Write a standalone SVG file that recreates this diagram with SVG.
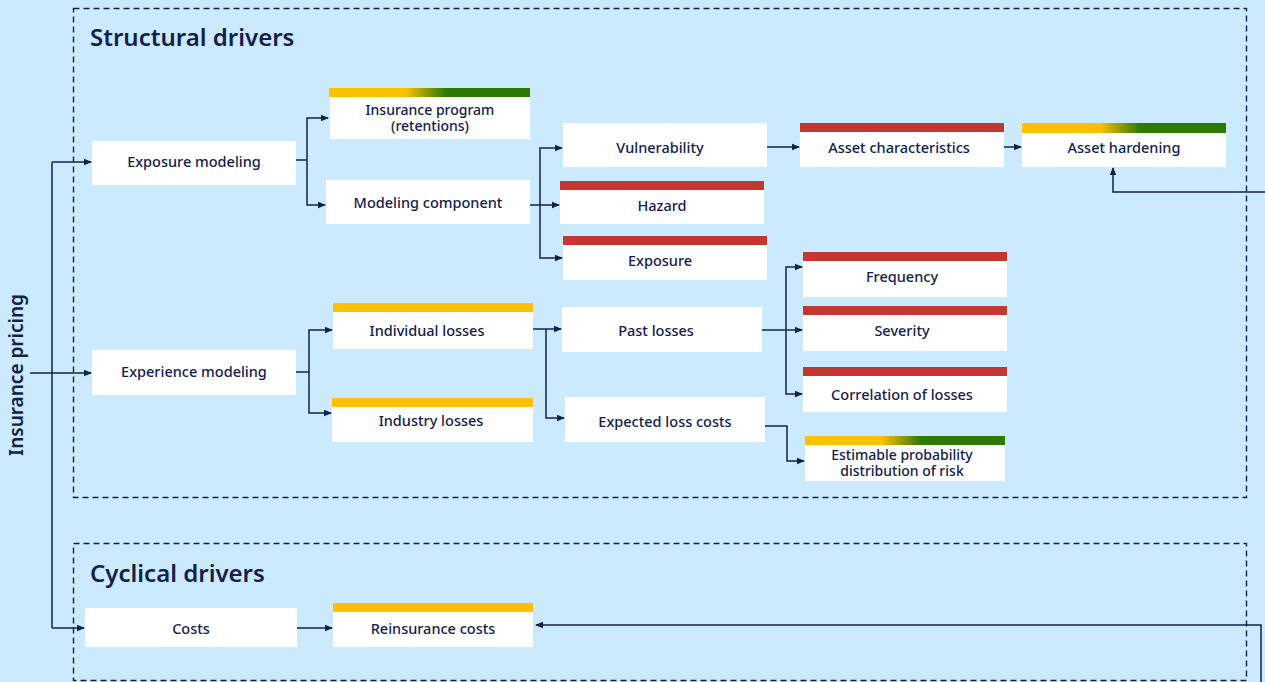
<svg xmlns="http://www.w3.org/2000/svg" width="1265" height="682" viewBox="0 0 1265 682">
  <defs>
    <linearGradient id="ygGrad" x1="0" y1="0" x2="1" y2="0">
      <stop offset="0" stop-color="#ffc000"/>
      <stop offset="0.38" stop-color="#ffc000"/>
      <stop offset="0.58" stop-color="#2e7a00"/>
      <stop offset="1" stop-color="#2e7a00"/>
    </linearGradient>
    <marker id="arrow" viewBox="0 0 8 8" refX="7" refY="4" markerWidth="8" markerHeight="8" markerUnits="userSpaceOnUse" orient="auto">
      <path d="M0,0.8 L8,4 L0,7.2 Z" fill="#13204a"/>
    </marker>
  </defs>
  <style>
    .box { fill: #ffffff; }
    .red { fill: #c43630; }
    .yel { fill: #ffc000; }
    .grad { fill: url(#ygGrad); }
    .lbl { font-family: "Noto Sans", "Open Sans", sans-serif; font-size: 14.5px; font-weight: 500; fill: #13204a; text-anchor: middle; dominant-baseline: central; }
    .sm { font-size: 14px; }
    .title { font-family: "Noto Sans", "Open Sans", sans-serif; font-size: 24px; font-weight: 600; fill: #13204a; }
    .frame { fill: none; stroke: #13204a; stroke-width: 1.4; stroke-dasharray: 6 4; }
    .conn path { fill: none; stroke: #13204a; stroke-width: 1.5; }
    .arr { marker-end: url(#arrow); }
  </style>

  <rect x="0" y="0" width="1265" height="682" fill="#cceafd"/>

  <!-- group frames -->
  <g id="structural-drivers">
    <rect class="frame" x="73.5" y="8.5" width="1173" height="489"/>
    <text class="title" x="90" y="46">Structural drivers</text>
  </g>
  <g id="cyclical-drivers">
    <rect class="frame" x="73.5" y="543.5" width="1173" height="137"/>
    <text class="title" x="90" y="582">Cyclical drivers</text>
  </g>

  <g id="insurance-pricing">
    <text transform="translate(23,375) rotate(-90)" font-family="'Noto Sans', 'Open Sans', sans-serif" font-size="19" font-weight="600" fill="#13204a" text-anchor="middle">Insurance pricing</text>
  </g>

  <!-- connectors -->
  <g id="connectors" class="conn">
    <path d="M52,628 V162"/>
    <path class="arr" d="M52,162 H91"/>
    <path class="arr" d="M30,373 H91"/>
    <path class="arr" d="M52,628 H84"/>

    <path d="M296,160 H307"/>
    <path class="arr" d="M307,160 V118 H328"/>
    <path class="arr" d="M307,160 V205 H325"/>

    <path d="M530,205 H540"/>
    <path class="arr" d="M540,205 V148 H562"/>
    <path class="arr" d="M540,205 H559"/>
    <path class="arr" d="M540,205 V258 H562"/>

    <path class="arr" d="M767,147 H799"/>
    <path class="arr" d="M1004,147 H1021"/>
    <path class="arr" d="M1265,192 H1113 V168"/>

    <path d="M296,372 H309"/>
    <path class="arr" d="M309,372 V330 H332"/>
    <path class="arr" d="M309,372 V413 H331"/>

    <path d="M533,329 H546"/>
    <path class="arr" d="M546,329 H561"/>
    <path class="arr" d="M546,329 V418 H564"/>

    <path d="M762,330 H786"/>
    <path class="arr" d="M786,330 V267 H802"/>
    <path class="arr" d="M786,330 H802"/>
    <path class="arr" d="M786,330 V394 H802"/>

    <path class="arr" d="M765,426 H787 V461 H804"/>

    <path class="arr" d="M297,628 H332"/>
    <path class="arr" d="M1261,682 V625 H536"/>
  </g>

  <!-- structural nodes -->
  <g id="exposure-modeling">
    <rect class="box" x="92" y="141" width="204" height="44"/>
    <text class="lbl" x="194" y="161">Exposure modeling</text>
  </g>
  <g id="insurance-program">
    <rect class="grad" x="329" y="88" width="201" height="9"/>
    <rect class="box" x="330" y="97" width="200" height="42"/>
    <text class="lbl sm"><tspan x="430" y="109">Insurance program</tspan><tspan x="430" y="125">(retentions)</tspan></text>
  </g>
  <g id="modeling-component">
    <rect class="box" x="326" y="180" width="204" height="44"/>
    <text class="lbl" x="428" y="202">Modeling component</text>
  </g>
  <g id="vulnerability">
    <rect class="box" x="563" y="123" width="204" height="44"/>
    <text class="lbl" x="660" y="147">Vulnerability</text>
  </g>
  <g id="hazard">
    <rect class="red" x="560" y="181" width="204" height="9"/>
    <rect class="box" x="560" y="190" width="204" height="34"/>
    <text class="lbl" x="662" y="205">Hazard</text>
  </g>
  <g id="exposure">
    <rect class="red" x="563" y="236" width="204" height="9"/>
    <rect class="box" x="563" y="245" width="204" height="35"/>
    <text class="lbl" x="660" y="260">Exposure</text>
  </g>
  <g id="asset-characteristics">
    <rect class="red" x="800" y="123" width="204" height="9"/>
    <rect class="box" x="800" y="132" width="204" height="35"/>
    <text class="lbl" x="899" y="147">Asset characteristics</text>
  </g>
  <g id="asset-hardening">
    <rect class="grad" x="1022" y="123" width="204" height="10"/>
    <rect class="box" x="1022" y="133" width="204" height="34"/>
    <text class="lbl" x="1124" y="147">Asset hardening</text>
  </g>
  <g id="experience-modeling">
    <rect class="box" x="92" y="350" width="204" height="45"/>
    <text class="lbl" x="194" y="371">Experience modeling</text>
  </g>
  <g id="individual-losses">
    <rect class="yel" x="333" y="303" width="200" height="9"/>
    <rect class="box" x="333" y="312" width="200" height="37"/>
    <text class="lbl" x="427" y="330">Individual losses</text>
  </g>
  <g id="industry-losses">
    <rect class="yel" x="332" y="398" width="201" height="9"/>
    <rect class="box" x="332" y="407" width="201" height="35"/>
    <text class="lbl" x="431" y="420">Industry losses</text>
  </g>
  <g id="past-losses">
    <rect class="box" x="562" y="307" width="200" height="45"/>
    <text class="lbl" x="656" y="330">Past losses</text>
  </g>
  <g id="expected-loss-costs">
    <rect class="box" x="565" y="397" width="200" height="45"/>
    <text class="lbl" x="665" y="421">Expected loss costs</text>
  </g>
  <g id="frequency">
    <rect class="red" x="803" y="252" width="204" height="9"/>
    <rect class="box" x="803" y="261" width="204" height="36"/>
    <text class="lbl" x="902" y="276">Frequency</text>
  </g>
  <g id="severity">
    <rect class="red" x="803" y="306" width="204" height="9"/>
    <rect class="box" x="803" y="315" width="204" height="36"/>
    <text class="lbl" x="902" y="330">Severity</text>
  </g>
  <g id="correlation-of-losses">
    <rect class="red" x="803" y="367" width="204" height="9"/>
    <rect class="box" x="803" y="376" width="204" height="36"/>
    <text class="lbl" x="902" y="394">Correlation of losses</text>
  </g>
  <g id="estimable-probability">
    <rect class="grad" x="805" y="436" width="200" height="9"/>
    <rect class="box" x="805" y="445" width="200" height="36"/>
    <text class="lbl sm"><tspan x="902" y="454">Estimable probability</tspan><tspan x="902" y="470">distribution of risk</tspan></text>
  </g>

  <!-- cyclical nodes -->
  <g id="costs">
    <rect class="box" x="85" y="608" width="212" height="39"/>
    <text class="lbl" x="191" y="628">Costs</text>
  </g>
  <g id="reinsurance-costs">
    <rect class="yel" x="333" y="603" width="200" height="9"/>
    <rect class="box" x="333" y="612" width="200" height="35"/>
    <text class="lbl" x="433" y="628">Reinsurance costs</text>
  </g>
</svg>
